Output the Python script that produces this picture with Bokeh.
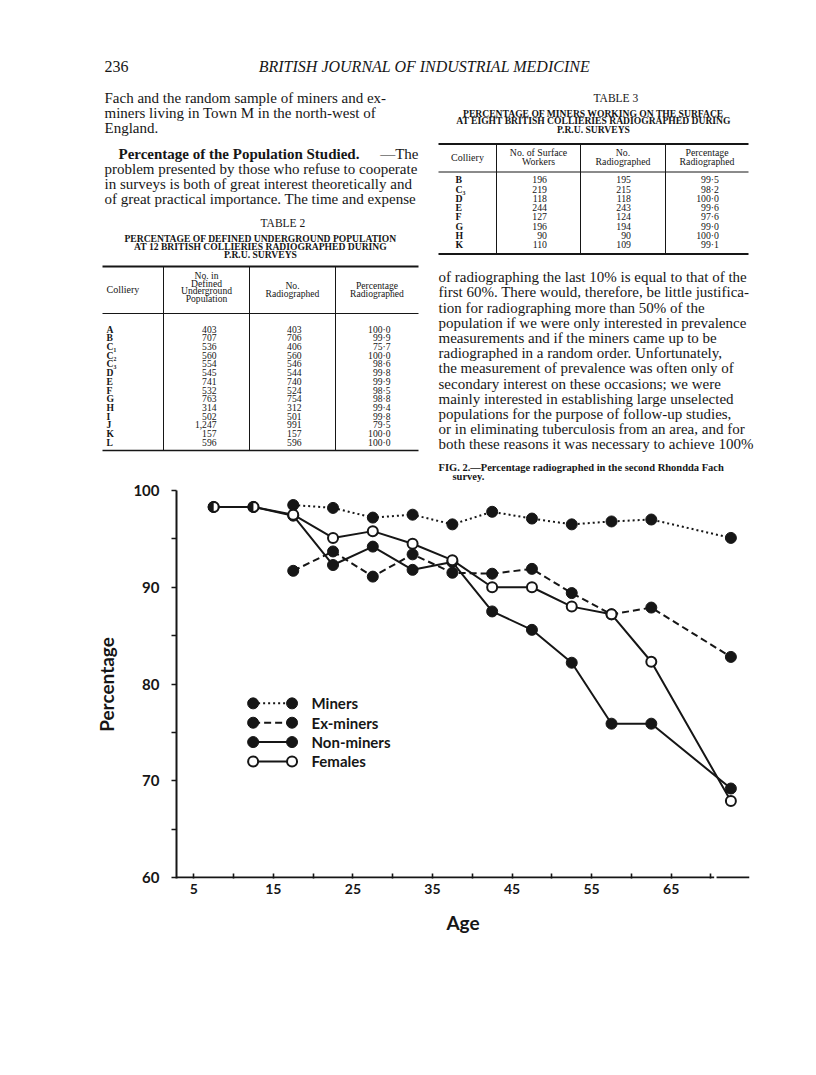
import numpy as np
from bokeh.plotting import figure
from bokeh.models import Range1d, FixedTicker
from bokeh.layouts import column
from bokeh.core.properties import value
from bokeh.embed import file_html
from bokeh.resources import INLINE

# ------------------------------------------------------------------ chart data
ages_all = [7.5, 12.5, 17.5, 22.5, 27.5, 32.5, 37.5, 42.5, 47.5, 52.5, 57.5, 62.5, 72.5]
ages_men = [17.5, 22.5, 27.5, 32.5, 37.5, 42.5, 47.5, 52.5, 57.5, 62.5, 72.5]
miners = [98.5, 98.2, 97.2, 97.5, 96.5, 97.8, 97.1, 96.5, 96.8, 97.0, 95.1]
ex_miners = [91.7, 93.7, 91.1, 93.4, 91.5, 91.4, 91.9, 89.4, 87.2, 87.9, 82.8]
non_miners = [98.3, 98.3, 97.4, 92.3, 94.2, 91.8, 92.6, 87.5, 85.6, 82.2, 75.9, 75.9, 69.2]
females = [98.3, 98.3, 97.5, 95.1, 95.8, 94.5, 92.8, 90.0, 90.0, 88.0, 87.2, 82.3, 67.9]
legend_labels = ["Miners", "Ex-miners", "Non-miners", "Females"]
x_ticks = [5, 10, 15, 20, 25, 30, 35, 40, 45, 50, 55, 60, 65, 70]
x_labelled = [5, 15, 25, 35, 45, 55, 65]
y_ticks = [60, 65, 70, 75, 80, 85, 90, 95, 100]
y_labelled = [60, 70, 80, 90, 100]

# ------------------------------------------------------------------ page text
header_left = "236"
header_title = "BRITISH JOURNAL OF INDUSTRIAL MEDICINE"
para1 = ["Fach and the random sample of miners and ex-",
         "miners living in Town M in the north-west of",
         "England."]
para2_head = "Percentage of the Population Studied."
para2_head_tail = "\u2014The"
para2 = ["problem presented by those who refuse to cooperate",
         "in surveys is both of great interest theoretically and",
         "of great practical importance.  The time and expense"]
right_text = ["of radiographing the last 10% is equal to that of the",
              "first 60%.  There would, therefore, be little justifica-",
              "tion for radiographing more than 50% of the",
              "population if we were only interested in prevalence",
              "measurements and if the miners came up to be",
              "radiographed in a random order.  Unfortunately,",
              "the measurement of prevalence was often only of",
              "secondary interest on these occasions; we were",
              "mainly interested in establishing large unselected",
              "populations for the purpose of follow-up studies,",
              "or in eliminating tuberculosis from an area, and for",
              "both these reasons it was necessary to achieve 100%"]
fig_caption = ["FIG. 2.\u2014Percentage radiographed in the second Rhondda Fach",
               "survey."]

t2_title = "TABLE 2"
t2_caption = ["PERCENTAGE OF DEFINED UNDERGROUND POPULATION",
              "AT 12 BRITISH COLLIERIES RADIOGRAPHED DURING",
              "P.R.U. SURVEYS"]
t2_colliery = ["A", "B", "C\u2081", "C\u2082", "C\u2083", "D", "E", "F", "G", "H", "I", "J", "K", "L"]
t2_defined = [403, 707, 536, 560, 554, 545, 741, 532, 763, 314, 502, 1247, 157, 596]
t2_radiographed = [403, 706, 406, 560, 546, 544, 740, 524, 754, 312, 501, 991, 157, 596]
t2_percent = [100.0, 99.9, 75.7, 100.0, 98.6, 99.8, 99.9, 98.5, 98.8, 99.4, 99.8, 79.5, 100.0, 100.0]

t3_title = "TABLE 3"
t3_caption = ["PERCENTAGE OF MINERS WORKING ON THE SURFACE",
              "AT EIGHT BRITISH COLLIERIES RADIOGRAPHED DURING",
              "P.R.U. SURVEYS"]
t3_colliery = ["B", "C\u2083", "D", "E", "F", "G", "H", "K"]
t3_surface = [196, 219, 118, 244, 127, 196, 90, 110]
t3_radiographed = [195, 215, 118, 243, 124, 194, 90, 109]
t3_percent = [99.5, 98.2, 100.0, 99.6, 97.6, 99.0, 100.0, 99.1]

INK = "#161616"
SERIF = "Liberation Serif"
SANS = "Lato"
PAGE_W = 810


def pct(v):
    return f"{v:.1f}".replace(".", "\u00b7")


def no_align(fig):
    if "frame_align" in fig.properties():
        fig.frame_align = False


# ================================================================== top (text) figure
TOP_H = 482
top = figure(width=PAGE_W, height=TOP_H, x_range=Range1d(0, PAGE_W), y_range=Range1d(TOP_H, 0),
             output_backend="svg", toolbar_location=None, min_border=0, title=None,
             x_axis_location=None, y_axis_location=None)
top.xgrid.visible = False
top.ygrid.visible = False
top.outline_line_color = None
no_align(top)


def put(p, xs, ys, texts, size, style="normal", align="left", font=SERIF):
    p.text(x=list(xs), y=list(ys), text=list(texts), text_font=value(font),
           text_font_size=value(f"{size}px"), text_font_style=style, text_align=align,
           text_baseline="middle", text_color=INK)


LX0, LX1 = 104, 418
RX0, RX1 = 438, 748
LEAD = 15.1

# running head
put(top, [LX0], [66], [header_left], 16)
put(top, [424], [66], [header_title], 16, style="italic", align="center")

# left column prose
put(top, [LX0] * len(para1), [97 + i * LEAD for i in range(len(para1))], para1, 15)
put(top, [LX0 + 14], [153], [para2_head], 15, style="bold")
put(top, [LX1], [153], [para2_head_tail], 15, align="right")
put(top, [LX0] * len(para2), [153 + (i + 1) * LEAD for i in range(len(para2))], para2, 15)

# ---- Table 2
t2x = [102, 163, 249, 335, 418]
put(top, [(t2x[0] + t2x[-1]) / 2], [222], [t2_title], 11.5)
put(top, [(t2x[0] + t2x[-1]) / 2] * 3, [238.3, 245.9, 253.5], t2_caption, 9.6, style="bold", align="center")
top.segment(x0=[t2x[0]] * 3, x1=[t2x[-1]] * 3, y0=[266, 313, 450], y1=[266, 313, 450],
            line_width=[2, 1, 1.5], line_color=INK)
top.segment(x0=t2x[1:4], x1=t2x[1:4], y0=[266] * 3, y1=[450] * 3, line_width=1, line_color=INK)
put(top, [106], [289], ["Colliery"], 10)
c2 = (t2x[1] + t2x[2]) / 2
put(top, [c2] * 4, [275, 282.5, 290, 297.5], ["No. in", "Defined", "Underground", "Population"], 9.6, align="center")
c3 = (t2x[2] + t2x[3]) / 2
c4 = (t2x[3] + t2x[4]) / 2
put(top, [c3, c3], [285, 293], ["No.", "Radiographed"], 9.6, align="center")
put(top, [c4, c4], [285, 293], ["Percentage", "Radiographed"], 9.6, align="center")
rows2 = [328.5 + i * 8.72 for i in range(len(t2_colliery))]
put(top, [106] * len(rows2), rows2, t2_colliery, 9.6, style="bold")
put(top, [216] * len(rows2), rows2, [f"{v:,}" for v in t2_defined], 9.6, align="right")
put(top, [301] * len(rows2), rows2, [f"{v:,}" for v in t2_radiographed], 9.6, align="right")
put(top, [390] * len(rows2), rows2, [pct(v) for v in t2_percent], 9.6, align="right")

# ---- Table 3
t3x = [438, 496, 580, 665, 748]
put(top, [(t3x[0] + t3x[-1]) / 2], [97], [t3_title], 11.5)
put(top, [(t3x[0] + t3x[-1]) / 2] * 3, [112.6, 120.2, 128.5], t3_caption, 9.6, style="bold", align="center")
top.segment(x0=[t3x[0]] * 3, x1=[t3x[-1]] * 3, y0=[143.5, 171.5, 253.5], y1=[143.5, 171.5, 253.5],
            line_width=[2, 1, 2], line_color=INK)
top.segment(x0=t3x[1:4], x1=t3x[1:4], y0=[143.5] * 3, y1=[253.5] * 3, line_width=1, line_color=INK)
put(top, [(t3x[0] + t3x[1]) / 2], [157], ["Colliery"], 10, align="center")
d2 = (t3x[1] + t3x[2]) / 2
d3 = (t3x[2] + t3x[3]) / 2
d4 = (t3x[3] + t3x[4]) / 2
put(top, [d2, d2], [152, 161], ["No. of Surface", "Workers"], 9.8, align="center")
put(top, [d3, d3], [152, 161], ["No.", "Radiographed"], 9.8, align="center")
put(top, [d4, d4], [152, 161], ["Percentage", "Radiographed"], 9.8, align="center")
rows3 = [179.3 + i * 9.24 for i in range(len(t3_colliery))]
put(top, [455] * len(rows3), rows3, t3_colliery, 9.8, style="bold")
put(top, [546.5] * len(rows3), rows3, [str(v) for v in t3_surface], 9.8, align="right")
put(top, [630.5] * len(rows3), rows3, [str(v) for v in t3_radiographed], 9.8, align="right")
put(top, [718.5] * len(rows3), rows3, [pct(v) for v in t3_percent], 9.8, align="right")

# right column prose
put(top, [RX0] * len(right_text), [276.7 + i * 15.2 for i in range(len(right_text))], right_text, 15)
put(top, [RX0, RX0 + 14], [466.5, 476], fig_caption, 10.5, style="bold")

# ================================================================== chart figure
CH_H = 1070 - TOP_H
FRAME_TOP = 490 - TOP_H
FRAME_H = 388
FRAME_L, FRAME_R = 176, 749
X0, X1 = 2.83, 74.84
p = figure(width=PAGE_W, height=CH_H, x_range=Range1d(X0, X1), y_range=Range1d(59.9, 100.0),
           output_backend="svg", toolbar_location=None, title=None,
           min_border_left=FRAME_L, min_border_right=PAGE_W - FRAME_R, min_border_top=FRAME_TOP,
           min_border_bottom=CH_H - FRAME_TOP - FRAME_H)
p.grid.visible = False
p.outline_line_color = None
no_align(p)

xa = p.xaxis[0]
xa.ticker = FixedTicker(ticks=x_ticks)
xa.major_label_overrides = {t: (str(t) if t in x_labelled else "") for t in x_ticks}
xa.axis_line_color = None
xa.major_tick_in = 5
xa.major_tick_out = 0
xa.major_tick_line_width = 1.6
xa.major_tick_line_color = INK
xa.minor_tick_line_color = None
xa.major_label_standoff = 5
xa.major_label_text_font = SANS
xa.major_label_text_font_style = "bold"
xa.major_label_text_font_size = "14px"
xa.major_label_text_color = INK
xa.axis_label = "Age"
xa.axis_label_text_font = SANS
xa.axis_label_text_font_style = "bold"
xa.axis_label_text_font_size = "19px"
xa.axis_label_text_color = INK
xa.axis_label_standoff = 14

ya = p.yaxis[0]
ya.ticker = FixedTicker(ticks=y_ticks)
ya.major_label_overrides = {t: (str(t) if t in y_labelled else "") for t in y_ticks}
ya.axis_line_width = 2
ya.axis_line_color = INK
ya.major_tick_in = 0
ya.major_tick_out = 5
ya.major_tick_line_width = 1.6
ya.major_tick_line_color = INK
ya.minor_tick_line_color = None
ya.major_label_standoff = 12
ya.major_label_text_font = SANS
ya.major_label_text_font_style = "bold"
ya.major_label_text_font_size = "15px"
ya.major_label_text_color = INK
ya.axis_label = "Percentage"
ya.axis_label_text_font = SANS
ya.axis_label_text_font_style = "bold"
ya.axis_label_text_font_size = "19px"
ya.axis_label_text_color = INK
ya.axis_label_standoff = 12

# x axis line with a break before the last (oldest) age group
BREAK0, BREAK1 = 70.4, 70.7
p.segment(x0=[X0, BREAK1], x1=[BREAK0, X1], y0=[60, 60], y1=[60, 60], line_width=2, line_color=INK)

DOT, DASH = "2 3", "7 4"
LW = 2
MS = 11
p.line(ages_men, miners, line_width=LW, line_dash=DOT, line_color=INK)
p.line(ages_men, ex_miners, line_width=LW, line_dash=DASH, line_color=INK)
p.line(ages_all, non_miners, line_width=LW, line_color=INK)
p.line(ages_all, females, line_width=LW, line_color=INK)
p.scatter(ages_men, miners, size=MS, fill_color=INK, line_color=INK)
p.scatter(ages_men, ex_miners, size=MS, fill_color=INK, line_color=INK)
p.scatter(ages_all, non_miners, size=MS, fill_color=INK, line_color=INK)
p.scatter(ages_all, females, size=MS - 1, fill_color="white", line_color=INK, line_width=2)
# groups where non-miners and females coincide: half-filled marker
both = [i for i in range(len(ages_all)) if non_miners[i] == females[i]]
p.wedge(x=[ages_all[i] for i in both], y=[females[i] for i in both], radius=5.5,
        radius_units="screen", start_angle=np.pi / 2, end_angle=3 * np.pi / 2,
        fill_color=INK, line_color=None)

# hand-drawn style key
key_y = [78, 76, 74, 72]
key_x0, key_x1, key_tx = 12.46, 17.35, 19.8
key_dash = [DOT, DASH, "solid", "solid"]
key_fill = [INK, INK, INK, "white"]
for yy, dash, fill in zip(key_y, key_dash, key_fill):
    p.line([key_x0, key_x1], [yy, yy], line_width=LW, line_dash=dash, line_color=INK)
    p.scatter([key_x0, key_x1], [yy, yy], size=MS - (1 if fill == "white" else 0), fill_color=fill,
              line_color=INK, line_width=2 if fill == "white" else 1)
p.text(x=[key_tx] * 4, y=key_y, text=legend_labels, text_font=value(SANS), text_font_style="bold",
       text_font_size=value("15px"), text_baseline="middle", text_color=INK)

layout = column(top, p, spacing=0)
open("out.html", "w").write(file_html(layout, INLINE))
